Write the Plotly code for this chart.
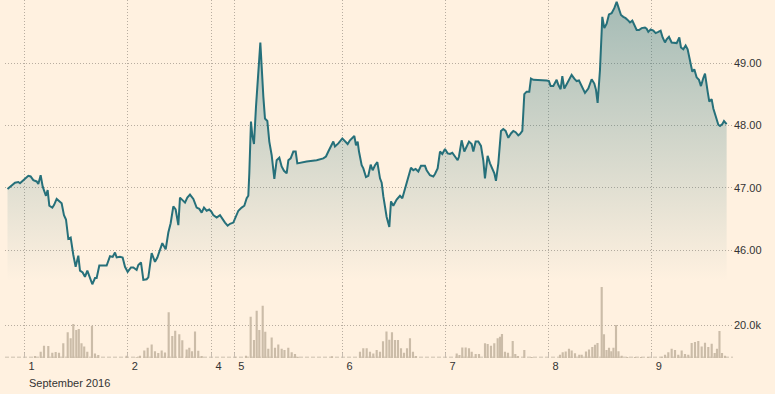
import plotly.graph_objects as go

# ---------------- data ----------------
# time axis: trading hours counted from the first quote (Aug 31 evening); weekend gap removed
price_hours = [0.0, 0.97, 1.75, 2.52, 2.91, 3.69, 4.07, 4.85, 5.39, 6.01, 6.79, 7.18, 7.72, 8.19, 8.73, 8.96,
               9.35, 9.74, 10.44, 10.83, 11.45, 12.07, 12.61, 13.15, 13.62, 14.16, 14.71, 15.33, 15.87, 16.49,
               16.88, 17.50, 18.04, 18.59, 19.05, 19.75, 20.37, 20.76, 21.38, 22.31, 23.09, 23.87, 24.49, 25.03,
               25.42, 26.19, 26.81, 27.36, 27.98, 28.75, 29.30, 30.07, 30.46, 31.08, 31.63, 32.40, 32.79, 33.57,
               34.34, 34.89, 35.51, 36.05, 36.83, 37.45, 37.99, 38.61, 39.15, 39.78, 40.16, 40.78, 41.33, 41.87,
               42.49, 43.27, 44.04, 44.66, 45.21, 45.75, 46.37, 46.99, 47.54, 47.92, 48.70, 49.48, 50.10, 50.64,
               51.26, 51.81, 52.58, 53.20, 53.75, 54.52, 55.14, 55.69, 56.07, 56.30, 56.69, 57.00, 57.39, 57.86,
               58.40, 58.87, 59.57, 59.95, 60.50, 60.96, 61.51, 62.13, 62.67, 63.29, 63.83, 64.38, 65.00, 65.39,
               65.93, 66.55, 67.10, 67.48, 69.65, 71.98, 73.53, 74.15, 74.70, 75.32, 75.86, 76.25, 77.03, 77.96,
               78.58, 79.20, 79.74, 80.75, 81.14, 81.53, 81.84, 82.46, 82.85, 83.47, 84.01, 84.56, 85.02, 85.57,
               86.11, 86.73, 87.12, 87.51, 88.28, 88.90, 89.29, 89.83, 90.61, 91.38, 91.93, 92.55, 93.17, 93.94,
               94.49, 95.03, 95.65, 96.27, 97.20, 97.59, 98.37, 99.14, 99.53, 100.15, 100.70, 101.24, 101.86,
               102.48, 103.02, 103.57, 104.19, 104.81, 105.12, 105.74, 106.36, 106.90, 107.45, 108.07, 108.46,
               109.00, 109.62, 110.24, 110.78, 111.17, 111.79, 112.34, 112.88, 113.35, 113.73, 114.28, 114.90,
               115.44, 115.98, 116.61, 117.23, 117.77, 118.31, 118.93, 119.32, 119.87, 120.33, 120.87, 121.49,
               121.88, 122.43, 123.20, 123.98, 124.75, 125.53, 126.07, 126.46, 127.08, 127.86, 128.25, 128.79,
               129.18, 129.64, 130.19, 130.73, 131.35, 131.97, 132.52, 133.06, 133.68, 134.46, 135.23, 136.01,
               136.63, 137.02, 137.40, 137.95, 138.49, 138.96, 139.50, 140.04, 140.66, 141.28, 141.83, 142.22,
               142.84, 143.38, 143.92, 144.55, 144.93, 145.48, 146.10, 146.49, 147.03, 147.65, 148.42, 148.81,
               149.20, 149.75, 150.37, 150.91, 151.53, 152.07, 152.54, 153.08, 153.47, 154.01, 154.63, 155.26,
               155.80, 156.42, 156.81, 157.35, 157.89, 158.36, 158.90, 159.45, 159.91, 160.45, 161.00, 161.46,
               162.01, 162.40, 163.02, 163.40, 163.95, 164.34, 164.88, 165.50, 165.89, 166.43, 166.82, 167.44]
price_values = [46.98, 47.04, 47.08, 47.09, 47.07, 47.12, 47.14, 47.19, 47.18, 47.12, 47.10, 47.06, 47.20, 47.02,
                46.91, 46.87, 46.96, 46.71, 46.68, 46.72, 46.82, 46.79, 46.75, 46.56, 46.49, 46.18, 46.20, 45.92,
                45.73, 45.91, 45.67, 45.64, 45.57, 45.67, 45.57, 45.45, 45.55, 45.55, 45.75, 45.75, 45.75, 45.90,
                45.89, 45.96, 45.88, 45.89, 45.88, 45.73, 45.65, 45.72, 45.72, 45.68, 45.76, 45.80, 45.52, 45.53,
                45.56, 45.95, 45.81, 45.88, 46.00, 46.11, 46.01, 46.28, 46.43, 46.70, 46.65, 46.40, 46.84, 46.79,
                46.76, 46.84, 46.89, 46.82, 46.68, 46.66, 46.60, 46.68, 46.63, 46.65, 46.61, 46.56, 46.52, 46.56,
                46.49, 46.44, 46.39, 46.42, 46.44, 46.53, 46.63, 46.68, 46.71, 46.83, 46.87, 47.23, 48.06, 47.84,
                47.70, 48.30, 48.94, 49.33, 48.46, 48.11, 48.07, 47.74, 47.52, 47.14, 47.44, 47.48, 47.34, 47.27,
                47.23, 47.44, 47.47, 47.58, 47.58, 47.39, 47.42, 47.44, 47.47, 47.50, 47.58, 47.68, 47.74, 47.66,
                47.71, 47.79, 47.74, 47.70, 47.76, 47.83, 47.68, 47.74, 47.58, 47.36, 47.31, 47.17, 47.19, 47.37,
                47.28, 47.36, 47.41, 47.15, 47.08, 46.86, 46.53, 46.37, 46.78, 46.71, 46.81, 46.87, 46.83, 46.98,
                47.12, 47.32, 47.28, 47.30, 47.26, 47.35, 47.35, 47.28, 47.20, 47.18, 47.22, 47.31, 47.58, 47.54,
                47.62, 47.55, 47.54, 47.56, 47.50, 47.44, 47.50, 47.76, 47.58, 47.66, 47.74, 47.70, 47.58, 47.74,
                47.74, 47.67, 47.44, 47.15, 47.51, 47.39, 47.31, 47.23, 47.11, 47.39, 47.91, 47.94, 47.91, 47.80,
                47.87, 47.91, 47.89, 47.84, 47.86, 47.91, 48.50, 48.54, 48.54, 48.75, 48.73, 48.73, 48.72, 48.72,
                48.72, 48.71, 48.63, 48.63, 48.73, 48.65, 48.58, 48.79, 48.59, 48.66, 48.73, 48.81, 48.75, 48.71,
                48.72, 48.63, 48.52, 48.59, 48.74, 48.67, 48.57, 48.36, 48.89, 49.74, 49.56, 49.63, 49.78, 49.80,
                49.88, 49.98, 49.90, 49.77, 49.74, 49.72, 49.68, 49.65, 49.68, 49.58, 49.53, 49.53, 49.56, 49.57,
                49.55, 49.50, 49.54, 49.52, 49.48, 49.50, 49.52, 49.41, 49.33, 49.38, 49.42, 49.33, 49.32, 49.32,
                49.41, 49.25, 49.22, 49.28, 49.22, 49.02, 48.86, 48.90, 48.77, 48.73, 48.63, 48.76, 48.83, 48.54,
                48.38, 48.42, 48.27, 48.15, 48.01, 47.99, 48.02, 48.07, 48.02]

volume_hours = [6.40, 7.73, 8.50, 9.50, 10.43, 11.22, 11.99, 12.99, 14.02, 14.71, 15.32, 16.02, 16.60, 17.23,
                17.86, 18.58, 19.67, 20.37, 21.14,
                27.75, 30.08, 30.85, 31.85, 32.64, 33.57, 34.34, 35.11, 35.90, 36.67, 37.53, 38.37, 39.05, 40.00,
                40.70, 41.72, 42.33, 42.96, 43.66, 44.42, 45.22,
                52.97, 55.53, 56.62, 57.39, 58.02, 58.63, 59.42, 60.02, 60.72, 61.51, 62.28, 63.05, 63.84, 64.49,
                65.38, 66.17, 66.94, 67.57,
                75.55, 82.07, 82.84, 83.63, 84.40, 85.17, 85.96, 86.73, 87.43, 88.24, 88.90, 89.52, 90.22, 90.92,
                91.62, 92.32, 93.02, 93.71, 94.41, 95.11,
                104.59, 105.24, 105.89, 106.68, 107.45, 108.08, 109.01, 109.78, 111.18, 111.80, 112.57, 113.34,
                114.13, 114.67, 115.13, 115.83, 116.53, 117.63, 118.23, 118.86, 120.33, 122.05,
                128.64, 129.27, 129.97, 130.73, 131.36, 132.13, 133.13, 133.69, 134.69, 135.39, 136.16, 136.79,
                137.37, 138.35, 138.88, 139.47, 140.05, 140.58, 141.09, 141.68, 142.26, 143.01, 144.31, 146.10,
                147.50,
                149.13, 152.32, 153.09, 153.86, 154.64, 155.42, 156.18, 156.97, 157.74, 158.51, 159.30, 160.07,
                160.84, 161.63, 162.40, 163.17, 163.96, 164.66, 165.19, 165.77, 166.36, 167.06]
volume_thousands = [1.2, 3.8, 7.5, 7.3, 3.2, 3.6, 3.2, 8.9, 15.6, 11.9, 20.6, 17.0, 17.6, 8.9, 6.9, 3.8, 19.6, 2.8, 1.8,
                    1.4, 0.4, 1.4, 4.5, 6.2, 8.2, 4.1, 3.1, 4.5, 3.3, 27.8, 13.4, 16.5, 14.4, 10.7, 5.2, 6.2, 4.1,
                    16.0, 4.4, 1.2,
                    0.8, 1.4, 25.0, 10.9, 28.6, 17.0, 31.7, 15.9, 5.6, 12.4, 6.2, 8.2, 5.6, 4.9, 6.2, 3.5, 2.5, 0.8,
                    1.0, 3.8, 5.9, 5.9, 3.8, 2.8, 4.8, 3.8, 10.1, 16.0, 11.0, 15.6, 10.9, 10.9, 5.9, 3.2, 5.9, 11.9,
                    3.8, 1.2,
                    2.8, 1.8, 6.3, 6.3, 5.9, 3.8, 2.4, 2.4, 8.9, 8.5, 7.5, 8.9, 11.9, 12.9, 14.5, 3.8, 3.2, 10.3,
                    2.4, 1.2, 4.8, 0.6,
                    2.0, 3.5, 3.9, 5.6, 4.5, 2.9, 2.0, 2.0, 3.9, 5.2, 6.6, 8.0, 9.1, 43.0, 14.4, 4.9, 6.2, 4.1,
                    6.2, 20.0, 4.1, 1.4, 0.6, 0.6, 0.6,
                    0.6, 0.8, 2.0, 3.5, 5.6, 4.9, 2.0, 4.5, 2.5, 2.0, 9.1, 9.7, 10.3, 7.0, 9.3, 6.6, 8.7, 3.1, 5.6,
                    16.3, 3.1, 1.4]

day_tick_hours = [4, 28, 47.5, 52.8, 78, 102, 126, 150]
day_tick_labels = ["1", "2", "4", "5", "6", "7", "8", "9"]
month_label = "September 2016"
price_ticks = [46, 47, 48, 49]
volume_ticks = [20000]
volume_tick_labels = ["20.0k"]

# ---------------- style ----------------
BG = "#fff1e0"
LINE = "#26707a"
VOL = "#cbbca8"
GRID = "#b8ada0"
TXT = "#333333"
FONT = "Liberation Sans, Arial, sans-serif"
DOT = "1px,2px"

fig = go.Figure()
fig.add_trace(go.Scatter(
    x=price_hours, y=price_values, mode="lines",
    line=dict(color=LINE, width=2),
    fill="tozeroy",
    fillgradient=dict(type="vertical", start=45.5, stop=50.0,
                      colorscale=[[0, "rgba(38,112,122,0)"], [1, "rgba(38,112,122,0.42)"]]),
    yaxis="y", hoverinfo="skip"))
fig.add_trace(go.Bar(
    x=volume_hours, y=[v * 1000 for v in volume_thousands], width=0.5,
    marker=dict(color=VOL, line=dict(width=0)), yaxis="y2", hoverinfo="skip"))

fig.update_layout(
    width=775, height=394,
    margin=dict(l=5, r=42, t=0, b=36),
    paper_bgcolor=BG, plot_bgcolor=BG,
    showlegend=False,
    font=dict(family=FONT, size=11, color=TXT),
    xaxis=dict(range=[-0.58, 168.92], tickvals=day_tick_hours, ticktext=day_tick_labels,
               showgrid=True, gridcolor=GRID, griddash=DOT, gridwidth=1, zeroline=False,
               showline=False, anchor="y2", ticks="inside", ticklen=5, tickcolor="#c8bdb0",
               ticklabelshift=7, tickfont=dict(family=FONT, size=11, color=TXT)),
    yaxis=dict(domain=[0.2, 1], range=[45.416, 50.011], side="right", anchor="x",
               tickvals=price_ticks, ticktext=[f"{v:.2f}" for v in price_ticks],
               showgrid=True, gridcolor=GRID, griddash=DOT, gridwidth=1, zeroline=False,
               showline=False, ticks="", tickfont=dict(family=FONT, size=11, color=TXT)),
    yaxis2=dict(domain=[0, 0.2], range=[0, 43394], side="right", anchor="x",
                tickvals=volume_ticks, ticktext=volume_tick_labels,
                showgrid=True, gridcolor=GRID, griddash=DOT, gridwidth=1, zeroline=False,
                showline=False, ticks="", tickfont=dict(family=FONT, size=11, color=TXT)),
    shapes=[dict(type="line", xref="paper", yref="y2", x0=0, x1=1, y0=500, y1=500,
                 line=dict(color="#cbbfae", width=1, dash="4px,2px"), layer="below")],
    annotations=[dict(text=month_label, x=day_tick_hours[0], xref="x", xanchor="left", xshift=2,
                      y=-0.0712, yref="paper", yanchor="middle", showarrow=False,
                      font=dict(family=FONT, size=11, color=TXT))],
)

fig.write_html("out.html", config={"displayModeBar": False, "staticPlot": True},
               post_script="document.body.style.margin='0px';document.body.style.overflow='hidden';")
